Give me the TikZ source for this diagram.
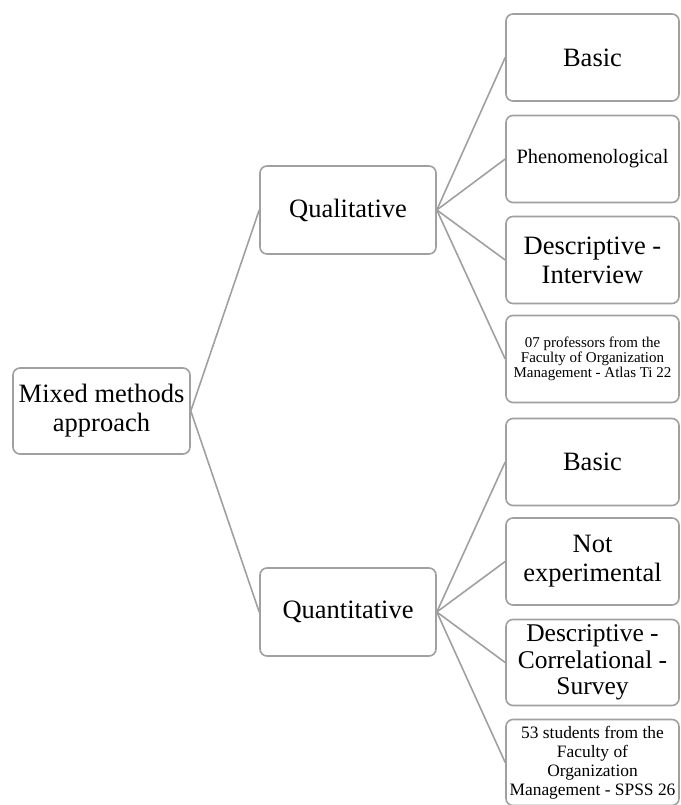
\documentclass[tikz,border=0pt]{standalone}
\usepackage{fontspec}
\setmainfont{Liberation Serif}
\newfontfamily\tnr{Liberation Serif}
\definecolor{boxgray}{HTML}{A0A0A0}
\begin{document}
\begin{tikzpicture}[x=1pt,y=-1pt,
  box/.style={draw=boxgray, line width=1.6pt, rounded corners=7pt, fill=white,
    align=center, inner sep=0pt, text=black},
  lbox/.style={box, minimum width=177pt, minimum height=86pt},
  rbox/.style={box, minimum width=173pt, minimum height=87pt},
  fbig/.style={font=\tnr\fontsize{26.5}{29}\selectfont},
  fmidd/.style={font=\tnr\fontsize{25.5}{26.5}\selectfont},
  fphen/.style={font=\tnr\fontsize{20.4}{22}\selectfont},
  fprof/.style={font=\tnr\fontsize{15}{13.5}\selectfont},
  fstud/.style={font=\tnr\fontsize{17.4}{19}\selectfont},
  conn/.style={draw=boxgray, line width=1.6pt}]
\useasboundingbox (0,0) rectangle (680,805);
% nodes
\node[lbox, fbig] (mix) at (101.5,411) {Mixed methods\\approach};
\node[lbox, fbig, minimum width=176pt, minimum height=88pt] (qual) at (348,210) {Qualitative};
\node[lbox, fbig, minimum width=176pt, minimum height=88pt] (quan) at (348,612) {Quantitative};
% qualitative children
\node[rbox, fbig] (q1) at (592.5,57.5) {Basic};
\node[rbox, fphen] (q2) at (592.5,159) {Phenomenological};
\node[rbox, fbig] (q3) at (592.5,260) {Descriptive -\\Interview};
\node[rbox, fprof] (q4) at (592.5,359) {07 professors from the\\Faculty of Organization\\Management - Atlas Ti 22};
% quantitative children
\node[rbox, fbig] (n1) at (592.5,462) {Basic};
\node[rbox, fbig] (n2) at (592.5,561.5) {Not\\experimental};
\node[rbox, fmidd, minimum height=86pt] (n3) at (592.5,662.5) {Descriptive -\\Correlational -\\Survey};
\node[rbox, fstud, minimum height=86pt] (n4) at (592.5,762.5) {53 students from the\\Faculty of\\Organization\\Management - SPSS 26};
% connectors
\draw[conn] (mix.east) -- (qual.west);
\draw[conn] (mix.east) -- (quan.west);
\foreach \c in {q1,q2,q3,q4}{\draw[conn] (qual.east) -- (\c.west);}
\foreach \c in {n1,n2,n3,n4}{\draw[conn] (quan.east) -- (\c.west);}
\end{tikzpicture}
\end{document}
